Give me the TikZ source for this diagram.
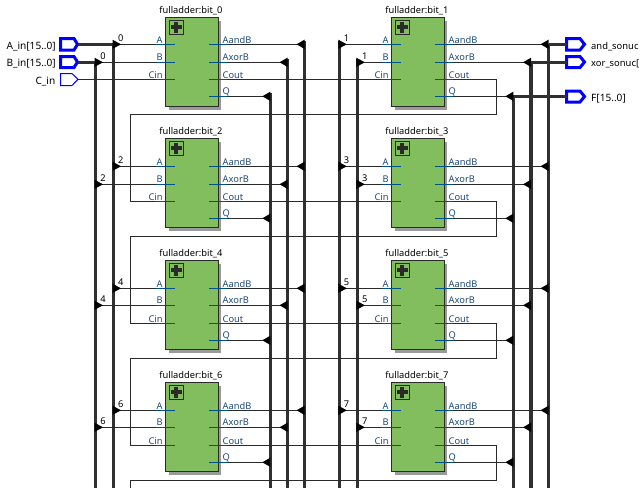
\documentclass[tikz,border=0pt]{standalone}
\usepackage{fontspec}
\setmainfont{Noto Sans}
\usetikzlibrary{calc}
\definecolor{boxgreen}{HTML}{82BE5E}
\definecolor{pinblue}{HTML}{00508C}
\definecolor{labblue}{HTML}{1F4A78}
\definecolor{wirec}{HTML}{2A2A2A}
\definecolor{busc}{HTML}{303030}
\definecolor{shadowc}{HTML}{9A9A9A}
\tikzset{
  wire/.style={draw=wirec,line width=0.9pt},
  bus/.style={draw=busc,line width=3.2pt},
  pin/.style={draw=pinblue,line width=0.9pt},
  ripper/.style={fill=black,draw=none},
  addbox/.style={draw=wirec,line width=1.1pt,fill=boxgreen,rectangle,minimum width=52.4pt,minimum height=89pt,inner sep=0pt,anchor=north west},
  shadowbox/.style={fill=shadowc,draw=none,rectangle,minimum width=52.4pt,minimum height=89pt,inner sep=0pt,anchor=north west},
  iconbox/.style={draw=wirec,line width=1.1pt,fill=boxgreen,rectangle,minimum size=14pt,inner sep=0pt,anchor=north west},
  txt/.style={font=\fontsize{9.3}{10}\selectfont,inner sep=0pt,text height=7pt,text depth=2pt},
  title/.style={txt,text=black,anchor=center},
  pinl/.style={txt,text=labblue,anchor=east},
  pinr/.style={txt,text=labblue,anchor=west},
  idx/.style={txt,text=black,anchor=center},
  portname/.style={txt,font=\fontsize{10.1}{11}\selectfont,text=black},
  portedge/.style={txt,font=\fontsize{9.4}{11}\selectfont,text=black},
  portthick/.style={draw=blue,line width=3pt,fill=white,miter limit=10},
  portthin/.style={draw=blue,line width=1pt,fill=white}
}
\def\xL{165.3}
\def\xR{391.3}
% #1 bit, #2 column L/R, #3 top, #4 A row, #5 B row, #6 Cin row, #7 Q row
\newcommand{\adderblock}[7]{%
  \pgfmathsetmacro{\bx}{\csname x#2\endcsname}%
  \node[shadowbox] (sh#1) at (\bx+3.5,#3+3.5) {};
  \node[addbox] (add#1) at (\bx,#3) {};
  \node[iconbox] (icon#1) at (\bx+3.2,#3+2.3) {};
  \fill[wirec] (icon#1.center) ++(-1.8,-5.5) rectangle ++(3.6,11);
  \fill[wirec] (icon#1.center) ++(-5.5,-1.8) rectangle ++(11,3.6);
  \node[title] (title#1) at (\bx+25.6,#3-6) {fulladder:bit\_#1};
  \coordinate (a#1) at (\bx-9.5,#4);
  \coordinate (ai#1) at (\bx+9.5,#4);
  \coordinate (b#1) at (\bx-9.5,#5);
  \coordinate (bi#1) at (\bx+9.5,#5);
  \coordinate (c#1) at (\bx-9.5,#6);
  \coordinate (ci#1) at (\bx+9.5,#6);
  \coordinate (ao#1) at (\bx+61.5,#4);
  \coordinate (aoi#1) at (\bx+43.5,#4);
  \coordinate (xo#1) at (\bx+61.5,#5);
  \coordinate (xoi#1) at (\bx+43.5,#5);
  \coordinate (co#1) at (\bx+61.5,#6);
  \coordinate (coi#1) at (\bx+43.5,#6);
  \coordinate (q#1) at (\bx+61.5,#7);
  \coordinate (qi#1) at (\bx+43.5,#7);
  \draw[wire] (busA#2|-a#1) -- (a#1);
  \draw[wire] (busB#2|-b#1) -- (b#1);
  \draw[wire] (ao#1) -- (busN#2|-ao#1);
  \draw[wire] (xo#1) -- (busX#2|-xo#1);
  \draw[wire] (q#1) -- (busQ#2|-q#1);
  \draw[pin] (a#1) -- (ai#1);
  \draw[pin] (b#1) -- (bi#1);
  \draw[pin] (c#1) -- (ci#1);
  \draw[pin] (coi#1) -- (co#1);
  \draw[pin] (aoi#1) -- (ao#1);
  \draw[pin] (xoi#1) -- (xo#1);
  \draw[pin] (qi#1) -- (q#1);
  \fill[ripper] (busA#2|-a#1) ++(-1,-4.6) -- ++(8.5,4.6) -- ++(-8.5,4.6) -- cycle;
  \fill[ripper] (busB#2|-b#1) ++(-1,-4.6) -- ++(8.5,4.6) -- ++(-8.5,4.6) -- cycle;
  \fill[ripper] (busN#2|-ao#1) ++(0,-4.6) -- ++(-8,4.6) -- ++(8,4.6) -- cycle;
  \fill[ripper] (busX#2|-xo#1) ++(0,-4.6) -- ++(-8,4.6) -- ++(8,4.6) -- cycle;
  \fill[ripper] (busQ#2|-q#1) ++(0,-4.6) -- ++(-8,4.6) -- ++(8,4.6) -- cycle;
  \node[idx] (ia#1) at ($(busA#2|-a#1)+(7.2,-5)$) {#1};
  \node[idx] (ib#1) at ($(busB#2|-b#1)+(7.5,-5)$) {#1};
  \node[pinl] (la#1) at (\bx-2.5,#4-3.5) {A};
  \node[pinl] (lb#1) at (\bx-2.5,#5-4) {B};
  \node[pinl] (lc#1) at (\bx-2.5,#6-3.5) {Cin};
  \node[pinr] (lao#1) at (\bx+57.2,#4-3.5) {AandB};
  \node[pinr] (lxo#1) at (\bx+57.2,#5-4) {AxorB};
  \node[pinr] (lco#1) at (\bx+57.2,#6-3.5) {Cout};
  \node[pinr] (lq#1) at (\bx+57.2,#7-4) {Q};
}
\begin{document}
\begin{tikzpicture}[x=1pt,y=-1pt]
\useasboundingbox (0,0) rectangle (640,488);
\clip (0,0) rectangle (640,488);
% bus tops
\coordinate (busBL) at (95.5,62.3);
\coordinate (busAL) at (113.5,44.3);
\coordinate (busQL) at (270.3,93);
\coordinate (busXL) at (287.5,59);
\coordinate (busNL) at (304.5,41);
\coordinate (busAR) at (339.3,41);
\coordinate (busBR) at (357.3,59);
\coordinate (busQR) at (513.3,96.3);
\coordinate (busXR) at (531,62.3);
\coordinate (busNR) at (548.5,44.3);
\coordinate (coutx) at (496.3,114.3);
\coordinate (ret1) at (130.3,114.3);
\coordinate (ret2) at (130.3,236);
\coordinate (ret3) at (130.3,358.3);
\coordinate (ret4) at (130.3,480.3);
\coordinate (retend) at (130.3,488);
% vertical buses
\foreach \n in {busBL,busAL,busQL,busXL,busNL,busAR,busBR,busQR,busXR,busNR}{
  \coordinate (\n end) at (\n |- retend);
  \draw[bus] (\n) -- (\n end);
}
% ports
\path[portthick] (60.5,38.5) -- (74,38.5) -- (77.5,44.3) -- (74,50) -- (60.5,50) -- cycle;
\coordinate (pA) at (77.5,44.3);
\path[portthick] (60.5,56.5) -- (74,56.5) -- (77.5,62) -- (74,67.5) -- (60.5,67.5) -- cycle;
\coordinate (pB) at (77.5,62.3);
\path[portthin] (60.5,73.5) -- (72,73.5) -- (78,79.3) -- (72,85.5) -- (60.5,85.5) -- cycle;
\coordinate (pC) at (78,79.3);
\path[portthick] (566.5,38.5) -- (580,38.5) -- (584.5,44.3) -- (580,50) -- (566.5,50) -- cycle;
\coordinate (pN) at (566.5,44.3);
\path[portthick] (566.5,56.5) -- (580,56.5) -- (584.5,62) -- (580,67.5) -- (566.5,67.5) -- cycle;
\coordinate (pX) at (566.5,62.3);
\path[portthick] (566.5,91) -- (580,91) -- (584.5,96.5) -- (580,102) -- (566.5,102) -- cycle;
\coordinate (pF) at (566.5,96.3);
\draw[bus] (pA) -- (busAL);
\draw[bus] (pB) -- (busBL);
\draw[bus] (busNR) -- (pN);
\draw[bus] (busXR) -- (pX);
\draw[bus] (busQR) -- (pF);
\node[portname,anchor=east] (nA) at (56,46.5) {A\_in[15..0]};
\node[portname,anchor=east] (nB) at (56,64) {B\_in[15..0]};
\node[portname,anchor=east] (nC) at (55.5,81.5) {C\_in};
\node[portedge,anchor=west] (nN) at (591,46.5) {and\_sonuc};
\node[portedge,anchor=west] (nX) at (591,64) {xor\_sonuc[};
\node[portname,anchor=west] (nF) at (591,98.5) {F[15..0]};
% adders
\adderblock{0}{L}{17.3}{44.3}{62.3}{79.3}{96.3}
\adderblock{1}{R}{17.3}{44.3}{62.3}{79.3}{96.3}
\adderblock{2}{L}{138.3}{166.3}{184.3}{201.3}{218.3}
\adderblock{3}{R}{138.3}{166.3}{184.3}{201.3}{218.3}
\adderblock{4}{L}{260.3}{288.3}{305.3}{323.3}{340.3}
\adderblock{5}{R}{260.3}{288.3}{305.3}{323.3}{340.3}
\adderblock{6}{L}{382.3}{410.3}{427.3}{445.3}{462.3}
\adderblock{7}{R}{382.3}{410.3}{427.3}{445.3}{462.3}
% carry chain
\draw[wire] (pC) -- (c0);
\draw[wire] (co0) -- (c1);
\draw[wire] (co2) -- (c3);
\draw[wire] (co4) -- (c5);
\draw[wire] (co6) -- (c7);
\draw[wire] (co1) -- (coutx|-co1) -- (coutx|-ret1) -- (ret1) -- (ret1|-c2) -- (c2);
\draw[wire] (co3) -- (coutx|-co3) -- (coutx|-ret2) -- (ret2) -- (ret2|-c4) -- (c4);
\draw[wire] (co5) -- (coutx|-co5) -- (coutx|-ret3) -- (ret3) -- (ret3|-c6) -- (c6);
\draw[wire] (co7) -- (coutx|-co7) -- (coutx|-ret4) -- (ret4) -- (retend);
% pins on top of carry wires
\foreach \i in {0,...,7}{
  \draw[pin] (c\i) -- (ci\i);
  \draw[pin] (coi\i) -- (co\i);
}
\end{tikzpicture}
\end{document}
